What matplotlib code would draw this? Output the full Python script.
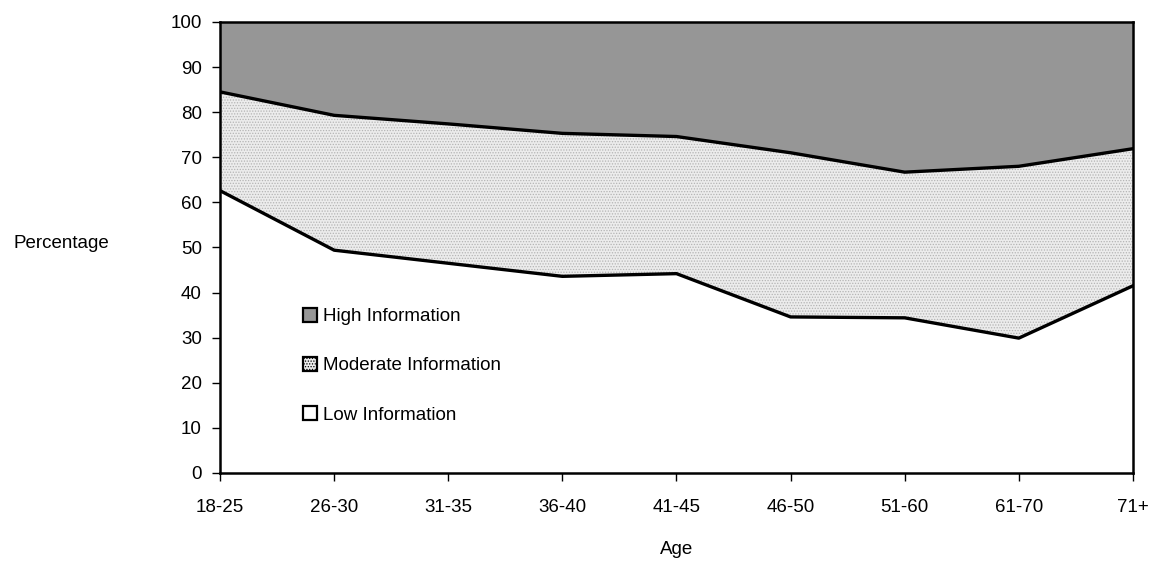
import numpy as np
import matplotlib
matplotlib.use('Agg')
import matplotlib.pyplot as plt
from matplotlib.patches import Patch

plt.rcParams['font.family'] = ['Liberation Sans', 'DejaVu Sans']
plt.rcParams['hatch.linewidth'] = 0.6

ages = ['18-25', '26-30', '31-35', '36-40', '41-45', '46-50', '51-60', '61-70', '71+']
# cumulative boundaries (percent)
low_top = [62.6, 49.4, 46.5, 43.6, 44.2, 34.6, 34.4, 29.9, 41.5]
moderate_top = [84.5, 79.3, 77.4, 75.3, 74.6, 71.0, 66.7, 68.0, 71.9]
labels = ['High Information', 'Moderate Information', 'Low Information']

high_col = '#969696'
mod_col = '#ececec'

x = np.arange(len(ages))
fs = 13.5

fig = plt.figure(figsize=(11.49, 5.62), dpi=100)
ax = fig.add_axes([0.1915, 0.1584, 0.7945, 0.8025])

ax.fill_between(x, moderate_top, 100, facecolor=high_col, edgecolor='none', zorder=1)
ax.fill_between(x, low_top, moderate_top, facecolor=mod_col, edgecolor='#b4b4b4',
                hatch='......', linewidth=0, zorder=1)
ax.fill_between(x, 0, low_top, facecolor='white', edgecolor='none', zorder=1)
ax.plot(x, moderate_top, color='black', lw=2.4, zorder=3)
ax.plot(x, low_top, color='black', lw=2.4, zorder=3)

ax.set_xlim(0, len(ages) - 1)
ax.set_ylim(0, 100)
ax.set_xticks(x)
ax.set_xticklabels(ages)
ax.set_yticks(range(0, 101, 10))
ax.tick_params(axis='both', labelsize=fs, direction='out', length=6, width=1, color='black')
ax.tick_params(axis='x', pad=13)
ax.tick_params(axis='y', pad=7)
for s in ax.spines.values():
    s.set_linewidth(1.8)
    s.set_color('black')

ax.set_xlabel('Age', fontsize=fs, labelpad=18)
fig.text(61 / 1149, 1 - 243 / 562, 'Percentage', fontsize=fs, ha='center', va='center')

# legend
handles = [Patch(facecolor=high_col, edgecolor='black', lw=1.6),
           Patch(facecolor=mod_col, edgecolor='black', lw=1.6, hatch='......'),
           Patch(facecolor='white', edgecolor='black', lw=1.6)]
leg = ax.legend(handles, labels, loc='upper left', bbox_to_anchor=(0.0909, 0.366),
                frameon=False, fontsize=fs, handlelength=0.75, handleheight=0.75,
                handletextpad=0.3, labelspacing=1.69, borderaxespad=0, borderpad=0)
for h in leg.legend_handles:
    h.set_edgecolor('black')

fig.savefig('out.png', dpi=100)
